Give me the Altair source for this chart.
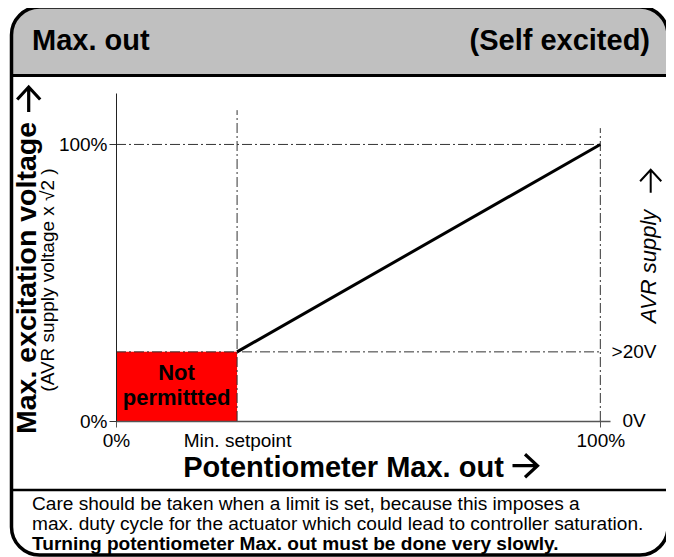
import altair as alt
import pandas as pd

# ---- values ----
x_tick_values = [0, 25, 100]
x_tick_labels = ["0%", "Min. setpoint", "100%"]
y_tick_values = [0, 100]
y_tick_labels = ["0%", "100%"]
right_tick_values = [0, 25]
right_tick_labels = ["0V", ">20V"]

line_x = [25, 100]
line_y = [25, 100]

zone_x = [0]
zone_x2 = [25]
zone_y = [0]
zone_y2 = [25]
zone_text = ["Not", "permittted"]

guide_x = [25, 100, 0, 0]
guide_x2 = [25, 100, 100, 100]
guide_y = [0, 0, 100, 25]
guide_y2 = [112.4, 105.9, 100, 25]

X_DOMAIN = [0, 102]
Y_DOMAIN = [0, 118.6]

title_left = "Max. out"
title_right = "(Self excited)"
x_title = "Potentiometer Max. out"
y_title = "Max. excitation voltage"
y_subtitle = "(AVR supply voltage x \u221a2 )"
right_title = "AVR supply"
notes = [
    "Care should be taken when a limit is set, because this imposes a",
    "max. duty cycle for the actuator which could lead to controller saturation.",
]
note_bold = "Turning potentiometer Max. out must be done very slowly."

FONT = "Liberation Sans"
# open arrow glyph drawn as a custom symbol (right-pointing, unit box -1..1)
ARROW_PATH = "M-1,0L1,0M0,-0.92L1,0L0,0.92"

# ---- scales / axes ----
xscale = alt.Scale(domain=X_DOMAIN, nice=False, zero=False)
yscale = alt.Scale(domain=Y_DOMAIN, nice=False, zero=False)

def label_expr(values, labels):
    parts = []
    for v, l in zip(values, labels):
        parts.append(f"datum.value === {v} ? '{l}' : ")
    return "".join(parts) + "''"

xaxis = alt.Axis(
    values=x_tick_values,
    labelExpr=label_expr(x_tick_values, x_tick_labels),
    title=x_title,
    titleFont=FONT, titleFontSize=29, titleFontWeight="bold", titleColor="black",
    titleX=227, titleY=55, titleBaseline="alphabetic", titleAlign="center", titleAnchor="start",
    labelFont=FONT, labelFontSize=19, labelColor="black", labelPadding=4,
    labelFlush=False, labelOverlap=False,
    tickSize=6, tickColor="#555", tickWidth=1,
    tickOpacity={"condition": {"test": "datum.value === 25", "value": 0}, "value": 1},
    domainColor="#555", domainWidth=1.5, grid=False, zindex=2,
)
yaxis = alt.Axis(
    values=y_tick_values,
    labelExpr=label_expr(y_tick_values, y_tick_labels),
    title=None,
    labelFont=FONT, labelFontSize=19, labelColor="black", labelPadding=2,
    labelFlush=False, labelOverlap=False,
    tickSize=7, tickColor="#333", tickWidth=1,
    domainColor="#222", domainWidth=1, grid=False, zindex=2,
)

one = pd.DataFrame({"k": [0]})

# frame pieces (layout, in pixels relative to plot origin)
FX0, FX1, FY0, FY1 = -104.5, 552, -86, 462
HEADER_BOTTOM = -17.5
NOTE_TOP = 397

header = alt.Chart(one).mark_rect(
    fill="#c0c0c0", cornerRadiusTopLeft=28, cornerRadiusTopRight=28
).encode(x=alt.value(FX0), x2=alt.value(FX1), y=alt.value(FY0), y2=alt.value(HEADER_BOTTOM))

sep_header = alt.Chart(one).mark_rule(color="black", strokeWidth=3).encode(
    x=alt.value(FX0), x2=alt.value(FX1), y=alt.value(HEADER_BOTTOM))
sep_notes = alt.Chart(one).mark_rule(color="black", strokeWidth=2.5).encode(
    x=alt.value(FX0), x2=alt.value(FX1), y=alt.value(NOTE_TOP))

frame = alt.Chart(one).mark_rect(
    fill=None, fillOpacity=0, stroke="black", strokeWidth=3.5, cornerRadius=28
).encode(x=alt.value(FX0), x2=alt.value(FX1), y=alt.value(FY0), y2=alt.value(FY1))

# data layers
zone_df = pd.DataFrame({"x": zone_x, "x2": zone_x2, "y": zone_y, "y2": zone_y2})
zone = alt.Chart(zone_df).mark_rect(color="#ff0000").encode(
    x=alt.X("x:Q", scale=xscale, axis=xaxis), x2="x2:Q",
    y=alt.Y("y:Q", scale=yscale, axis=yaxis), y2="y2:Q",
)

guides_df = pd.DataFrame({"x": guide_x, "x2": guide_x2, "y": guide_y, "y2": guide_y2})
guides = alt.Chart(guides_df).mark_rule(color="#333", strokeWidth=1, strokeDash=[10, 3, 2, 3]).encode(
    x=alt.X("x:Q", scale=xscale, axis=xaxis), x2="x2:Q",
    y=alt.Y("y:Q", scale=yscale, axis=yaxis), y2="y2:Q",
)

line_df = pd.DataFrame({"x": line_x, "y": line_y})
line = alt.Chart(line_df).mark_line(color="black", strokeWidth=3).encode(
    x=alt.X("x:Q", scale=xscale, axis=xaxis),
    y=alt.Y("y:Q", scale=yscale, axis=yaxis),
)

zone_label_df = pd.DataFrame({
    "x": [(zone_x[0] + zone_x2[0]) / 2], "y": [(zone_y[0] + zone_y2[0]) / 2],
    "t": ["\n".join(zone_text)],
})
zone_label = alt.Chart(zone_label_df).mark_text(
    font=FONT, fontSize=22, fontWeight="bold", color="black", lineBreak="\n",
    lineHeight=25, align="center", baseline="middle", dy=-13,
).encode(
    x=alt.X("x:Q", scale=xscale, axis=xaxis),
    y=alt.Y("y:Q", scale=yscale, axis=yaxis),
    text="t:N",
)

right_df = pd.DataFrame({"y": right_tick_values, "t": right_tick_labels})
right_labels = alt.Chart(right_df).mark_text(
    font=FONT, fontSize=19, color="black", align="center", baseline="middle",
).encode(
    x=alt.value(518),
    y=alt.Y("y:Q", scale=yscale, axis=yaxis),
    text="t:N",
)

def txt(text, x, y, font=FONT, **kw):
    return alt.Chart(pd.DataFrame({"t": [text]})).mark_text(font=font, color="black", **kw).encode(
        x=alt.value(x), y=alt.value(y), text="t:N")

def arrow(x, y, box, width, angle=0):
    return alt.Chart(one).mark_point(
        shape=ARROW_PATH, filled=False, stroke="black", strokeWidth=width,
        strokeJoin="miter", strokeCap="butt", opacity=1, size=box * box, angle=angle,
    ).encode(x=alt.value(x), y=alt.value(y))

t_left = txt(title_left, -84, -43, fontSize=29, fontWeight="bold", align="left", baseline="alphabetic")
t_right = txt(title_right, 534, -43, fontSize=29, fontWeight="bold", align="right", baseline="alphabetic")
x_arrow = arrow(409, 372.7, 25, 3.2)
t_y = txt(y_title, -89, 185, fontSize=28.5, fontWeight="bold", angle=270, align="center", baseline="middle")
y_arrow = arrow(-87.3, 6.5, 25, 3.2, angle=270)
t_ysub = txt(y_subtitle, -68, 187, fontSize=19, angle=270, align="center", baseline="middle")
t_r = txt(right_title, 533, 173.5, fontSize=22, fontStyle="italic", angle=270, align="center", baseline="middle")
r_arrow = arrow(534.7, 88.3, 23, 2.0, angle=270)
n1 = txt(notes[0], -84, 417.4, fontSize=19.1, align="left", baseline="alphabetic")
n2 = txt(notes[1], -84, 437.2, fontSize=19.1, align="left", baseline="alphabetic")
n3 = txt(note_bold, -84, 457.0, fontSize=19.1, fontWeight="bold", align="left", baseline="alphabetic")

chart = alt.layer(
    header, zone, guides, line, zone_label, right_labels,
    sep_header, sep_notes, frame,
    t_left, t_right, x_arrow, t_y, y_arrow, t_ysub, t_r, r_arrow, n1, n2, n3,
).properties(
    width=494, height=328,
    padding={"left": 108, "top": 85, "right": 56, "bottom": 136},
    autosize=alt.AutoSizeParams(type="none"),
    background="white",
).configure_view(stroke=None)

chart.save("out.html", embed_options={"renderer": "svg", "actions": False})
